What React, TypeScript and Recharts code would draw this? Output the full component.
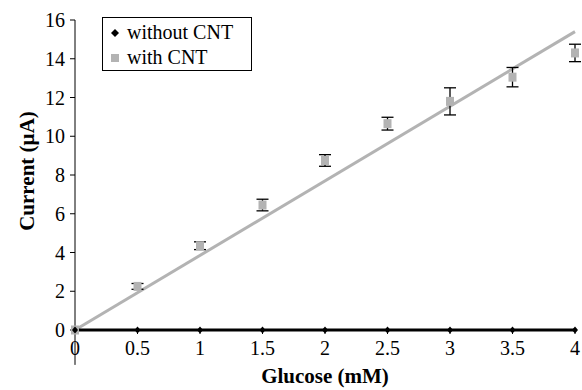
import React from 'react';
import {
  ComposedChart,
  Scatter,
  Line,
  XAxis,
  YAxis,
  ErrorBar,
  ReferenceLine,
  Legend,
  Label,
} from 'recharts';

// ---- data ----
const glucose = [0, 0.5, 1, 1.5, 2, 2.5, 3, 3.5, 4];
const withCnt = [0, 2.25, 4.35, 6.45, 8.75, 10.65, 11.8, 13.05, 14.3];
const withCntErr = [0, 0.15, 0.2, 0.3, 0.3, 0.33, 0.7, 0.5, 0.45];
const withoutCnt = [0, 0, 0, 0, 0, 0, 0, 0, 0];
const trendX = [0, 4];
const trendY = [0, 15.4];
const xTicks = [0, 0.5, 1, 1.5, 2, 2.5, 3, 3.5, 4];
const yTicks = [0, 2, 4, 6, 8, 10, 12, 14, 16];
const seriesNames = ['without CNT', 'with CNT'];
const xTitle = 'Glucose (mM)';
const yTitle = 'Current (\u00b5A)';

const withData = glucose.map((x, i) => ({ x, y: withCnt[i], err: withCntErr[i] }));
const withoutData = glucose.map((x, i) => ({ x, y: withoutCnt[i] }));
const trendData = trendX.map((x, i) => ({ x, y: trendY[i] }));

const FONT = '"Liberation Serif", "Times New Roman", serif';
const GRAY = '#b3b3b3';

const Square = (props: any) => {
  const { cx, cy } = props;
  if (cx == null || cy == null) return null;
  return <rect x={cx - 4} y={cy - 4.5} width={8} height={9} fill={GRAY} />;
};

const NoShape = () => null;

const Diamond = (props: any) => {
  const { cx, cy, index } = props;
  if (cx == null || cy == null) return <g key={`d${index}`} />;
  return (
    <polygon
      key={`d${index}`}
      points={`${cx},${cy - 3.5} ${cx + 3},${cy} ${cx},${cy + 3.5} ${cx - 3},${cy}`}
      fill="#000"
    />
  );
};

const LegendBox = () => (
  <div
    style={{
      border: '1px solid #000',
      background: '#fff',
      width: 150,
      height: 54,
      boxSizing: 'border-box',
      fontFamily: FONT,
      fontSize: 20,
      color: '#000',
      padding: '2px 0 0 6px',
      lineHeight: '25px',
    }}
  >
    <div style={{ display: 'flex', alignItems: 'center' }}>
      <svg width={14} height={12} style={{ marginRight: 4 }}>
        <polygon points="6,2 10,6 6,10 2,6" fill="#000" />
      </svg>
      <span>{seriesNames[0]}</span>
    </div>
    <div style={{ display: 'flex', alignItems: 'center' }}>
      <svg width={14} height={12} style={{ marginRight: 4 }}>
        <rect x={2} y={2} width={8} height={8} fill={GRAY} />
      </svg>
      <span>{seriesNames[1]}</span>
    </div>
  </div>
);

export default function App() {
  return (
    <div style={{ position: 'absolute', left: 0, top: 0, width: 582, height: 390, background: '#fff' }}>
      <ComposedChart
        width={582}
        height={390}
        margin={{ top: 20, right: 7, left: 0, bottom: 0 }}
        style={{ fontFamily: FONT }}
      >
        <XAxis
          dataKey="x"
          type="number"
          domain={[0, 4]}
          ticks={xTicks}
          height={60}
          stroke="#000"
          tickSize={4}
          tickMargin={7}
          tick={{ fill: '#000', fontSize: 20, fontFamily: FONT }}
          tickFormatter={(v: number) => String(v)}
        >
          <Label
            value={xTitle}
            position="insideBottom"
            offset={7}
            style={{ fontFamily: FONT, fontSize: 21, fontWeight: 'bold', fill: '#000' }}
          />
        </XAxis>
        <YAxis
          type="number"
          domain={[0, 16]}
          ticks={yTicks}
          width={75}
          stroke="#000"
          tickSize={5}
          tickMargin={5}
          tick={{ fill: '#000', fontSize: 20, fontFamily: FONT }}
        >
          <Label
            value={yTitle}
            angle={-90}
            position="center"
            dx={-11}
            dy={-4}
            style={{ fontFamily: FONT, fontSize: 21, fontWeight: 'bold', fill: '#000', textAnchor: 'middle' }}
          />
        </YAxis>
        <ReferenceLine
          segment={[
            { x: 0, y: 0 },
            { x: 0, y: -1.8 },
          ]}
          stroke="#000"
          strokeWidth={1}
          ifOverflow="visible"
        />
        <Line
          data={trendData}
          dataKey="y"
          type="linear"
          stroke={GRAY}
          strokeWidth={3}
          dot={false}
          activeDot={false}
          legendType="none"
          isAnimationActive={false}
        />
        <Scatter
          data={withData}
          dataKey="y"
          name={seriesNames[1]}
          shape={NoShape}
          legendType="none"
          isAnimationActive={false}
        >
          <ErrorBar dataKey="err" direction="y" width={6} stroke="#000" strokeWidth={1.3} />
        </Scatter>
        <Scatter
          data={withData}
          dataKey="y"
          name={seriesNames[1]}
          shape={Square}
          isAnimationActive={false}
        />
        <Line
          data={withoutData}
          dataKey="y"
          name={seriesNames[0]}
          type="linear"
          stroke="#000"
          strokeWidth={3}
          dot={Diamond}
          activeDot={false}
          isAnimationActive={false}
        />
        <Legend
          layout="vertical"
          align="center"
          verticalAlign="middle"
          content={LegendBox}
          wrapperStyle={{ position: 'absolute', left: 102, top: 17, width: 150, height: 54 }}
        />
      </ComposedChart>
    </div>
  );
}
